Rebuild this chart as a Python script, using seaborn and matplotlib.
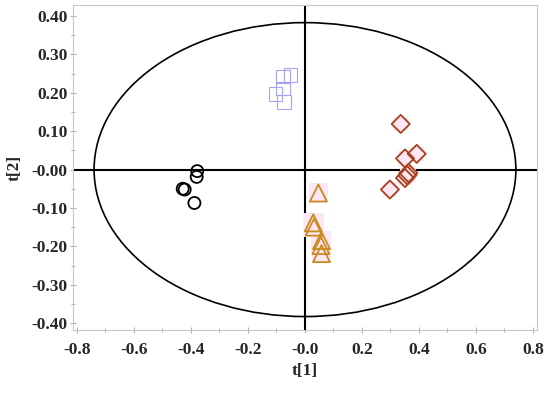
import pandas as pd
import seaborn as sns
import matplotlib.pyplot as plt
from matplotlib.patches import Ellipse
from matplotlib.ticker import MultipleLocator, FixedLocator, FixedFormatter

# Scores t[1], t[2] por grupo
circ_t1 = [-0.378, -0.380, -0.429, -0.422, -0.388]
circ_t2 = [-0.004, -0.019, -0.050, -0.052, -0.087]
sq_t1 = [-0.078, -0.050, -0.103, -0.078, -0.074]
sq_t2 = [0.243, 0.247, 0.197, 0.211, 0.176]
dia_t1 = [0.336, 0.351, 0.392, 0.363, 0.359, 0.351, 0.298]
dia_t2 = [0.119, 0.029, 0.041, -0.009, -0.015, -0.022, -0.052]
tri_t1 = [0.047, 0.029, 0.032, 0.058, 0.056, 0.058]
tri_t2 = [-0.061, -0.139, -0.150, -0.185, -0.198, -0.219]

# Elipse T2 de Hotelling (semiejes)
ell_a = 0.74
ell_b = 0.383

xticks = [-0.8, -0.6, -0.4, -0.2, 0.0, 0.2, 0.4, 0.6, 0.8]
xlabels = ['-0.8', '-0.6', '-0.4', '-0.2', '-0.0', '0.2', '0.4', '0.6', '0.8']
yticks = [-0.4, -0.3, -0.2, -0.1, 0.0, 0.1, 0.2, 0.3, 0.4]
ylabels = ['-0.40', '-0.30', '-0.20', '-0.10', '-0.00', '0.10', '0.20', '0.30', '0.40']

df = pd.concat([
    pd.DataFrame({'t1': circ_t1, 't2': circ_t2, 'grupo': 'A'}),
    pd.DataFrame({'t1': sq_t1, 't2': sq_t2, 'grupo': 'B'}),
    pd.DataFrame({'t1': dia_t1, 't2': dia_t2, 'grupo': 'C'}),
    pd.DataFrame({'t1': tri_t1, 't2': tri_t2, 'grupo': 'D'}),
])

estilos = {
    'A': dict(marker='o', edge='black', s=75, lw=1.3, halo=False),
    'B': dict(marker='s', edge='#a4a4f2', s=95, lw=0.8, halo=False),
    'C': dict(marker='D', edge='#a8401c', s=85, lw=1.3, halo=True),
    'D': dict(marker='^', edge='#c98a1e', s=150, lw=1.3, halo=True),
}

sns.set_style('white')
plt.rcParams['axes.unicode_minus'] = False
fig = plt.figure(figsize=(5.5, 3.98), dpi=100)
ax = fig.add_axes([0.1327, 0.1709, 0.8436, 0.8166])

ax.add_patch(Ellipse((0, 0), 2 * ell_a, 2 * ell_b, fill=False, color='black', lw=1.2))
ax.axhline(0, color='black', lw=1.5, zorder=1)
ax.axvline(0, color='black', lw=1.5, zorder=1)

for g, st in estilos.items():
    d = df[df['grupo'] == g]
    if st['halo']:
        sns.scatterplot(data=d, x='t1', y='t2', ax=ax, marker='s', s=st['s'] * 1.3,
                        color='#fde6f5', edgecolor='none', zorder=2, legend=False)
    sns.scatterplot(data=d, x='t1', y='t2', ax=ax, marker=st['marker'], s=st['s'],
                    facecolor='none', edgecolor=st['edge'], linewidth=st['lw'],
                    zorder=3, legend=False)

ax.set_xlim(-0.814, 0.814)
ax.set_ylim(-0.418, 0.429)
ax.xaxis.set_major_locator(FixedLocator(xticks))
ax.xaxis.set_major_formatter(FixedFormatter(xlabels))
ax.yaxis.set_major_locator(FixedLocator(yticks))
ax.yaxis.set_major_formatter(FixedFormatter(ylabels))
ax.xaxis.set_minor_locator(MultipleLocator(0.1))
ax.yaxis.set_minor_locator(MultipleLocator(0.05))

fuente = dict(family='Liberation Serif', weight='bold', size=12.5)
ax.tick_params(which='both', direction='inout', color='#b0b0b0', length=4, width=0.8,
               bottom=True, left=True)
ax.tick_params(axis='y', pad=2)
ax.tick_params(axis='x', pad=7)
ax.tick_params(which='minor', length=3)
for lab in ax.get_xticklabels() + ax.get_yticklabels():
    lab.set_fontfamily('Liberation Serif')
    lab.set_fontweight('bold')
    lab.set_fontsize(12.5)
for sp in ax.spines.values():
    sp.set_color('#c8c8c8')
    sp.set_linewidth(0.8)

ax.set_xlabel('t[1]', fontdict=fuente, labelpad=3)
ax.set_ylabel('t[2]', fontdict=fuente, labelpad=6)

plt.savefig('out.png', dpi=100)
